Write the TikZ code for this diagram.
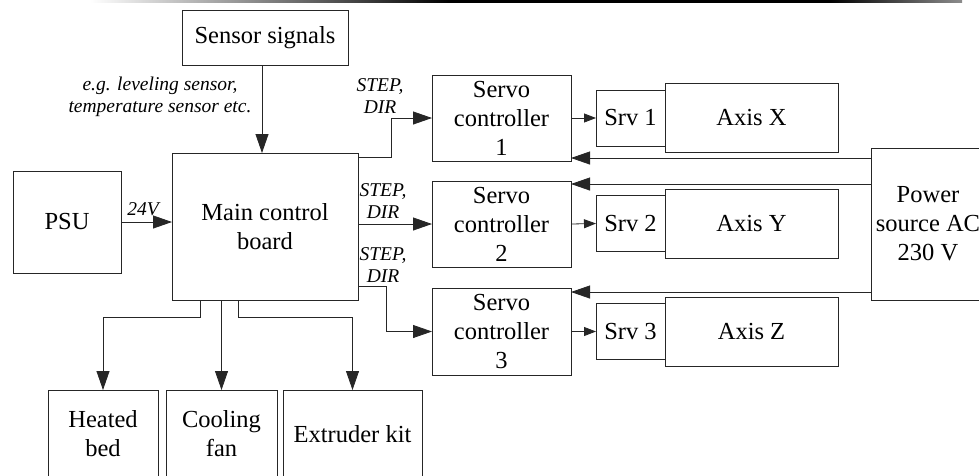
\documentclass[tikz,border=0pt]{standalone}
\usepackage{fontspec}
\setmainfont{Liberation Serif}
\usetikzlibrary{arrows.meta,calc}
\begin{document}
\begin{tikzpicture}[x=1pt,y=-1pt,
  box/.style={draw=black!85, line width=0.8pt, inner sep=0pt, outer sep=0pt,
    align=center, font=\fontsize{24.5}{29}\selectfont},
  lbl/.style={font=\fontsize{19.5}{22}\selectfont\itshape, align=center, inner sep=0pt},
  link/.style={draw=black!85, line width=0.8pt, -{Triangle[length=19pt,width=13pt]}},
  shortlink/.style={draw=black!85, line width=0.8pt, -{Triangle[length=12pt,width=9pt]}},
]
\useasboundingbox (0,0) rectangle (979,475);

% header rule
\shade[left color=white, right color=black] (90,0) rectangle (450,2.5);
\fill[black] (450,0) rectangle (830,2.5);
\shade[left color=black, right color=black!45] (830,0) rectangle (962,2.5);

% blocks
\node[box, minimum width=166, minimum height=55] (sensor) at (265,37.5) {Sensor signals};
\node[box, minimum width=186, minimum height=147] (main) at (265,226.5) {Main control\\board};
\node[box, minimum width=108, minimum height=102] (psu) at (67,222) {PSU};

\node[box, minimum width=139, minimum height=86] (servo1) at (501.5,118) {Servo\\controller\\1};
\node[box, minimum width=139, minimum height=86] (servo2) at (501.5,224) {Servo\\controller\\2};
\node[box, minimum width=139, minimum height=87] (servo3) at (501.5,331.5) {Servo\\controller\\3};

\node[box, minimum width=69, minimum height=56] (srv1) at (630.5,118) {Srv 1};
\node[box, minimum width=173, minimum height=69] (axisx) at (751.5,117.5) {Axis X};
\node[box, minimum width=69, minimum height=56] (srv2) at (630.5,223.5) {Srv 2};
\node[box, minimum width=173, minimum height=69] (axisy) at (751.5,223.5) {Axis Y};
\node[box, minimum width=69, minimum height=56] (srv3) at (630.5,331.5) {Srv 3};
\node[box, minimum width=173, minimum height=69] (axisz) at (751.5,331.5) {Axis Z};

\node[box, minimum width=114, minimum height=152] (power) at (928,224) {Power\\source AC\\230 V};

\node[box, minimum width=110, minimum height=88] (heated) at (103,434) {Heated\\bed};
\node[box, minimum width=111, minimum height=88] (cooling) at (221.5,434) {Cooling\\fan};
\node[box, minimum width=139, minimum height=88] (extruder) at (352.5,434) {Extruder kit};

% signal and power connections
\draw[link] ([xshift=-3pt]sensor.south) -- ([xshift=-3pt]sensor.south |- main.north);
\draw[link] (psu.east) -- (psu.east -| main.west);

\draw[link] ($(main.north east)+(0,4)$) -- ++(33,0) |- (servo1.west);
\draw[link] (servo2.west -| main.east) -- (servo2.west);
\draw[link] ($(main.south east)+(0,-14)$) -- ++(28,0) |- (servo3.west);

\draw[shortlink] (servo1.east) -- (srv1.west);
\draw[shortlink] (servo2.east) -- (srv2.west);
\draw[shortlink] (servo3.east) -- (srv3.west);

\coordinate (p1) at ($(servo1.south east)+(0,-3)$);
\coordinate (p2) at ($(servo2.north east)+(0,3)$);
\coordinate (p3) at ($(servo3.north east)+(0,4)$);
\draw[link] (p1 -| power.west) -- (p1);
\draw[link] (p2 -| power.west) -- (p2);
\draw[link] (p3 -| power.west) -- (p3);

\draw[link] ($(main.south west)+(28,0)$) -- ++(0,17) -| (heated.north);
\draw[link] (cooling.north |- main.south) -- (cooling.north);
\draw[link] ($(main.south west)+(66,0)$) -- ++(0,17) -| (extruder.north);

% labels
\node[lbl] (sensorlbl) at (160,97) {e.g. leveling sensor,\\temperature sensor etc.};
\node[lbl] (vlbl) at (143,209) {24V};
\node[lbl] (step1) at (380,96) {STEP,\\DIR};
\node[lbl] (step2) at (383,201) {STEP,\\DIR};
\node[lbl] (step3) at (383,265) {STEP,\\DIR};
\end{tikzpicture}
\end{document}
